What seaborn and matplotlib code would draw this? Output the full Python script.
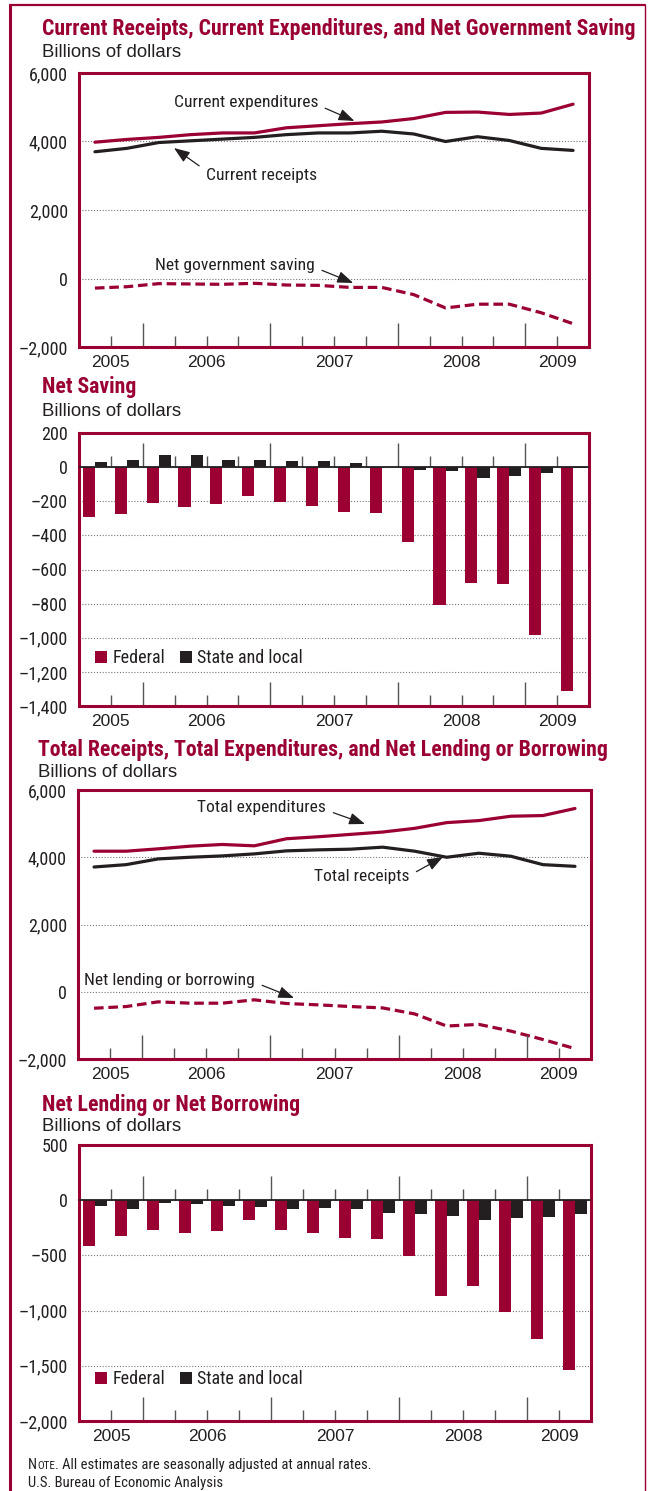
import matplotlib
matplotlib.use("Agg")
import matplotlib.pyplot as plt
import matplotlib.transforms as mtransforms
from matplotlib import font_manager
from matplotlib.lines import Line2D
from matplotlib.ticker import FuncFormatter
import numpy as np
import pandas as pd
import seaborn as sns

# quarters shown: 2005 Q3 .. 2009 Q2
quarters = ["2005Q3", "2005Q4",
            "2006Q1", "2006Q2", "2006Q3", "2006Q4",
            "2007Q1", "2007Q2", "2007Q3", "2007Q4",
            "2008Q1", "2008Q2", "2008Q3", "2008Q4",
            "2009Q1", "2009Q2"]
years = ["2005", "2006", "2007", "2008", "2009"]
quarters_per_year = [2, 4, 4, 4, 2]

# panel 1 (billions of dollars)
current_receipts = [3700, 3800, 3970, 4020, 4070, 4120, 4200, 4250,
                    4250, 4300, 4220, 4000, 4140, 4030, 3800, 3740]
current_expenditures = [3980, 4060, 4120, 4200, 4250, 4250, 4400, 4460,
                        4520, 4570, 4670, 4850, 4860, 4790, 4830, 5090]
net_government_saving = [-280, -240, -150, -160, -170, -140, -190, -200,
                         -260, -260, -470, -860, -750, -750, -1000, -1320]

# panel 2
saving_federal = [-290, -272, -208, -231, -218, -167, -202, -225,
                  -261, -267, -437, -806, -678, -684, -982, -1313]
saving_state_local = [29, 39, 69, 69, 43, 39, 35, 37,
                      22, 3, -18, -24, -61, -53, -37, -8]

# panel 3
total_receipts = [3710, 3780, 3950, 4000, 4040, 4100, 4190, 4220,
                  4240, 4300, 4180, 4000, 4120, 4030, 3780, 3730]
total_expenditures = [4180, 4180, 4250, 4330, 4380, 4340, 4550, 4610,
                      4680, 4750, 4860, 5030, 5090, 5220, 5240, 5450]
net_lending = [-490, -440, -300, -340, -340, -240, -350, -390,
               -440, -480, -660, -1020, -970, -1170, -1420, -1690]

# panel 4
lending_federal = [-412, -322, -268, -295, -277, -178, -268, -295,
                   -340, -349, -509, -864, -774, -1017, -1261, -1541]
lending_state_local = [-57, -84, -27, -36, -57, -66, -84, -75,
                       -84, -120, -129, -141, -175, -157, -150, -129]

MAROON = "#9b0033"
INK = "#231f20"
TICK = "#555555"
W, H = 650, 1491

sns.set_style("white")
names = {f.name for f in font_manager.fontManager.ttflist}
NARROW = next((n for n in ["Liberation Sans Narrow", "DejaVu Sans Condensed",
                           "Roboto Condensed"] if n in names), "Liberation Sans")
REG = "Liberation Sans" if "Liberation Sans" in names else "DejaVu Sans"
plt.rcParams["font.family"] = [REG, "DejaVu Sans"]
plt.rcParams["text.color"] = INK

fig = plt.figure(figsize=(W / 100, H / 100), dpi=100)


def fx(x):
    return x / W


def fy(y):
    return 1 - y / H


def rect(l, t, r, b):
    return [fx(l), fy(b), (r - l) / W, (b - t) / H]


qpos = np.arange(len(quarters))
ends = np.cumsum(quarters_per_year)
year_bounds = ends[:-1] - 0.5
year_mid = ends - np.array(quarters_per_year) / 2 - 0.5
all_bounds = np.arange(len(quarters) - 1) + 0.5
short_bounds = [b for b in all_bounds if b not in year_bounds]
minor_bounds = [b for b in short_bounds if b not in year_mid]

fmt = FuncFormatter(lambda v, p: f"{v:,.0f}".replace("-", "\u2013"))


def style(ax, ylim, yticks, bars=False):
    ax.set_xlim(-0.5, len(quarters) - 0.5)
    ax.set_ylim(*ylim)
    for s in ax.spines.values():
        s.set_visible(True)
        s.set_color(MAROON)
        s.set_linewidth(2.2)
    ax.set_yticks(yticks)
    ax.yaxis.set_major_formatter(fmt)
    ax.tick_params(axis="y", left=False, length=0, pad=8, labelsize=13,
                   labelfontfamily=NARROW, labelcolor=INK)
    ax.yaxis.grid(True, ls=(0, (1, 1.6)), color="#777777", lw=0.8)
    ax.set_axisbelow(True)
    ax.set_xticks(year_mid, labels=years)
    ax.set_xticks(minor_bounds, minor=True)
    ax.tick_params(axis="x", which="both", bottom=True, direction="in",
                   length=8, width=1, color=TICK, labelsize=12.5, pad=6,
                   labelcolor=INK)
    ax.set_xlabel("")
    ax.set_ylabel("")
    bottom = mtransforms.blended_transform_factory(ax.transData, ax.transAxes)
    ax.plot(year_bounds, np.zeros(len(year_bounds)), transform=bottom,
            ls="none", marker=2, ms=17, mew=1, color=TICK, clip_on=False)
    if bars:
        ax.axhline(0, color=INK, lw=1.3, zorder=3)
        ax.plot(year_bounds, np.zeros(len(year_bounds)), ls="none",
                marker=2, ms=17, mew=1, color=TICK, zorder=1)
        ax.plot(short_bounds, np.zeros(len(short_bounds)), ls="none",
                marker=2, ms=8, mew=1, color=TICK, zorder=1)


def lines(ax, up_red, up_black, net):
    sns.lineplot(x=qpos, y=up_red, ax=ax, color=MAROON, lw=2.3)
    sns.lineplot(x=qpos, y=up_black, ax=ax, color=INK, lw=2.3)
    sns.lineplot(x=qpos, y=net, ax=ax, color=MAROON, lw=2.3)
    ax.lines[-1].set_linestyle((0, (3, 1.5)))


def bars(ax, fed, sl, lx, ly):
    df = pd.DataFrame({
        "quarter": quarters * 2,
        "value": fed + sl,
        "sector": ["Federal"] * len(quarters) + ["State and local"] * len(quarters),
    })
    sns.barplot(data=df, x="quarter", y="value", hue="sector",
                palette=[MAROON, INK], saturation=1, width=0.76,
                edgecolor="none", ax=ax, zorder=2)
    sns.move_legend(ax, loc="center left", bbox_to_anchor=(lx, ly), ncol=2,
                    frameon=False, title=None, handlelength=0.66,
                    handleheight=0.66, handletextpad=0.3, columnspacing=0.8,
                    borderaxespad=0, prop={"family": NARROW, "size": 13})


def arrow(ax, text, tip, xytext, ha, relpos):
    ax.annotate(text, xy=tip, xytext=xytext, ha=ha, va="center",
                fontsize=12.6, family=NARROW, color=INK,
                arrowprops=dict(arrowstyle="-|>,head_length=0.8,head_width=0.3",
                                color=INK, lw=0.9, shrinkA=3, shrinkB=0,
                                relpos=relpos, mutation_scale=12))


def heading(title, ybase_t, ybase_s, x=42):
    fig.text(fx(x), fy(ybase_t), title, family=NARROW, weight="bold",
             size=15.7, color=MAROON, va="baseline")
    fig.text(fx(x), fy(ybase_s), "Billions of dollars", size=13.4,
             va="baseline", color=INK)


# panel 1
ax1 = fig.add_axes(rect(79, 73, 589, 347))
lines(ax1, current_expenditures, current_receipts, net_government_saving)
style(ax1, (-2000, 6000), [-2000, 0, 2000, 4000, 6000])
arrow(ax1, "Current expenditures", (8.14, 4600), (7.0, 5150), "right", (1, 0.3))
arrow(ax1, "Current receipts", (2.48, 3810), (3.48, 3020), "left", (0, 0.8))
arrow(ax1, "Net government saving", (8.1, -130), (6.9, 365), "right", (1, 0.4))
heading("Current Receipts, Current Expenditures, and Net Government Saving", 35, 57)

# panel 2
ax2 = fig.add_axes(rect(79, 433, 589, 706))
bars(ax2, saving_federal, saving_state_local, 0.018, 0.176)
style(ax2, (-1400, 200), np.arange(-1400, 201, 200), bars=True)
heading("Net Saving", 393, 416)

# panel 3
ax3 = fig.add_axes(rect(78, 790, 591, 1059))
lines(ax3, total_expenditures, total_receipts, net_lending)
style(ax3, (-2000, 6000), [-2000, 0, 2000, 4000, 6000])
arrow(ax3, "Total expenditures", (8.45, 4990), (7.24, 5490), "right", (1, 0.3))
arrow(ax3, "Total receipts", (10.88, 4007), (6.86, 3413), "left", (1, 0.6))
arrow(ax3, "Net lending or borrowing", (6.24, -186), (5.02, 320), "right", (1, 0.4))
heading("Total Receipts, Total Expenditures, and Net Lending or Borrowing", 756, 777, x=38)

# panel 4
ax4 = fig.add_axes(rect(79, 1145, 591, 1421))
bars(ax4, lending_federal, lending_state_local, 0.018, 0.152)
style(ax4, (-2000, 500), np.arange(-2000, 501, 500), bars=True)
heading("Net Lending or Net Borrowing", 1111, 1131)

# outer frame
fig.add_artist(Line2D([fx(10), fx(10)], [0, fy(5)], color=MAROON, lw=2.2))
fig.add_artist(Line2D([fx(10), fx(645)], [fy(5), fy(5)], color=MAROON, lw=1.6))
fig.add_artist(Line2D([fx(645), fx(645)], [0, fy(5)], color=MAROON, lw=1.0))

# note with small caps
renderer = fig.canvas.get_renderer()
x0 = fx(28)
for part, size in [("N", 10.5), ("OTE", 8), (". All estimates are seasonally adjusted at annual rates.", 10.5)]:
    t = fig.text(x0, fy(1469), part, family=NARROW, size=size, va="baseline", color=INK)
    x0 = fig.transFigure.inverted().transform(t.get_window_extent(renderer))[1][0]
fig.text(fx(28), fy(1487), "U.S. Bureau of Economic Analysis", family=NARROW,
         size=10.5, va="baseline", color=INK)

fig.savefig("out.png", dpi=100)
